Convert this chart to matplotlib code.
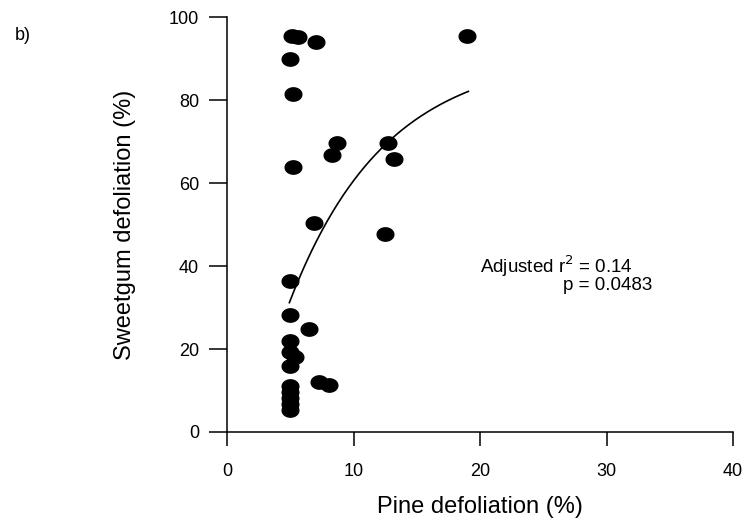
import numpy as np
import matplotlib
matplotlib.use("Agg")
import matplotlib.pyplot as plt
from matplotlib.path import Path

plt.rcParams['font.family'] = ['Liberation Sans', 'DejaVu Sans']

# Pine vs. sweetgum defoliation per plot (%)
pine_defol = [5.1, 5.6, 7.0, 4.95, 5.2, 8.7, 8.3, 5.2, 12.7, 13.2, 19.0,
              6.9, 12.5, 4.95, 4.95, 6.5, 4.95, 4.95, 5.4, 4.95,
              7.3, 8.1, 4.95, 4.95, 4.95, 4.95, 4.95]
sweetgum_defol = [95.5, 95.2, 94.1, 89.9, 81.4, 69.6, 66.8, 63.8, 69.6, 65.8, 95.6,
                  50.3, 47.7, 36.3, 28.2, 24.8, 21.9, 19.4, 18.2, 15.8,
                  12.1, 11.3, 11.1, 9.6, 8.2, 6.7, 5.3]

# Exponential rise-to-maximum fit: y = a - b * exp(-k x)
fit_a, fit_b, fit_k = 91.44, 115.5, 0.132
fit_xmin, fit_xmax = 4.93, 19.08

x_ticks = [0, 10, 20, 30, 40]
y_ticks = [0, 20, 40, 60, 80, 100]

fig = plt.figure(figsize=(7.47, 5.26), dpi=100)
ax = fig.add_axes([227/747, 1 - 432/526, (733 - 227)/747, (432 - 17.3)/526])

# slightly flattened ellipse marker
t = np.linspace(0, 2*np.pi, 60)
ellipse = Path(np.column_stack([np.cos(t), 0.8*np.sin(t)]), closed=True)

ax.plot(pine_defol, sweetgum_defol, linestyle='none', marker=ellipse,
        markersize=12, color='black', zorder=3)

xf = np.linspace(fit_xmin, fit_xmax, 200)
ax.plot(xf, fit_a - fit_b*np.exp(-fit_k*xf), color='black', lw=1.2)

ax.set_xlim(0, 40)
ax.set_ylim(0, 100)
ax.set_xticks(x_ticks)
ax.set_yticks(y_ticks)
for s in ['top', 'right']:
    ax.spines[s].set_visible(False)
for s in ['left', 'bottom']:
    ax.spines[s].set_linewidth(1.1)
ax.tick_params(axis='y', direction='out', length=13, width=1.1, labelsize=13, pad=7)
ax.tick_params(axis='x', direction='out', length=10, width=1.1, labelsize=13, pad=12)

ax.set_xlabel('Pine defoliation (%)', fontsize=17, labelpad=12)
ax.set_ylabel('Sweetgum defoliation (%)', fontsize=17, labelpad=24)

ax.text(20.0, 40.0, 'Adjusted r$^2$ = 0.14', fontsize=13.5, ha='left', va='center')
ax.text(33.6, 35.3, 'p = 0.0483', fontsize=13.5, ha='right', va='center')

fig.text(15/747, 1 - 36/526, 'b)', fontsize=13, ha='left', va='center')

fig.savefig('out.png', dpi=100)
